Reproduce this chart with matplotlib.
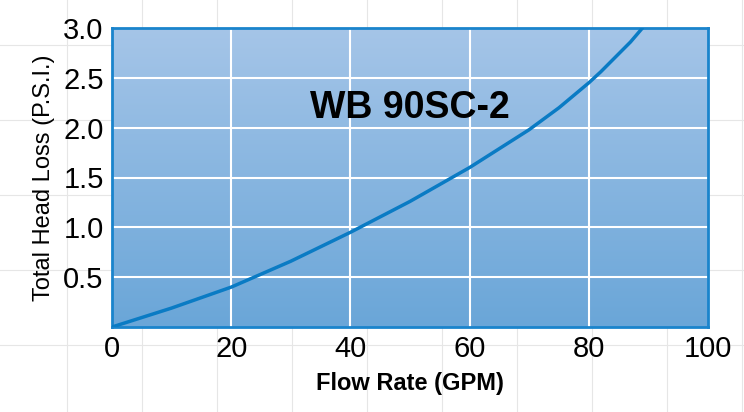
import matplotlib.pyplot as plt
import numpy as np
from matplotlib.colors import LinearSegmentedColormap
from matplotlib.lines import Line2D

plt.rcParams['font.family'] = ['Liberation Sans', 'DejaVu Sans']

flow = [0, 10, 20, 30, 40, 50, 60, 65, 70, 75, 80, 82, 85, 87, 89]
loss = [0, 0.19, 0.40, 0.66, 0.95, 1.26, 1.60, 1.79, 1.98, 2.20, 2.45, 2.56, 2.74, 2.86, 3.0]
xticks = [0, 20, 40, 60, 80, 100]
yticks = [0.5, 1.0, 1.5, 2.0, 2.5, 3.0]

W, H = 744, 412
fig = plt.figure(figsize=(W / 100, H / 100), dpi=100)

# faint background grid on the page
for gx in range(67, W, 75):
    fig.add_artist(Line2D([gx / W, gx / W], [0, 1], color='#e6e6e6', lw=0.8, zorder=0))
for gy in range(45, H, 75):
    fig.add_artist(Line2D([0, 1], [1 - gy / H, 1 - gy / H], color='#e6e6e6', lw=0.8, zorder=0))

ax = fig.add_axes([112 / W, 1 - 327 / H, (708 - 112) / W, (327 - 28) / H])
cmap = LinearSegmentedColormap.from_list('bg', ['#6aa6d8', '#a5c5e8'])
grad = np.linspace(0, 1, 256).reshape(-1, 1)
ax.imshow(grad, cmap=cmap, aspect='auto', origin='lower', extent=[0, 100, 0, 3], zorder=0)
ax.set_xlim(0, 100)
ax.set_ylim(0, 3)

for v in [20, 40, 60, 80]:
    ax.axvline(v, color='white', lw=1.5, zorder=1)
for v in [0.5, 1.0, 1.5, 2.0, 2.5]:
    ax.axhline(v, color='white', lw=1.5, zorder=1)

ax.plot(flow, loss, color='#0a7bc4', lw=2.5, zorder=3, solid_capstyle='round')
ax.text(50, 2.2, 'WB 90SC-2', fontsize=27, fontweight='bold', ha='center', va='center', zorder=4)

for s in ax.spines.values():
    s.set_color('#1a84cc')
    s.set_linewidth(2)
ax.set_xticks(xticks)
ax.set_xticklabels([str(t) for t in xticks])
ax.set_yticks(yticks)
ax.set_yticklabels([f'{t:.1f}' for t in yticks])
ax.tick_params(length=0, labelsize=21, pad=6)
ax.set_xlabel('Flow Rate (GPM)', fontsize=17, fontweight='bold', labelpad=6)
ax.set_ylabel('Total Head Loss (P.S.I.)', fontsize=17, labelpad=6)

fig.savefig('out.png', dpi=100)
